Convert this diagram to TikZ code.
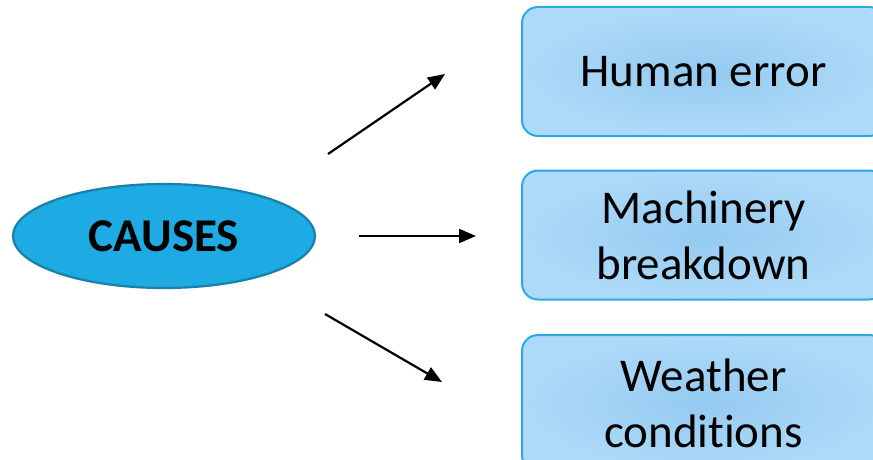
\documentclass[tikz,border=0pt]{standalone}
\usepackage{fontspec}
\setmainfont[RawFeature={-liga;-calt}]{Carlito}
\usetikzlibrary{arrows.meta,shapes.geometric}
\definecolor{ellfill}{RGB}{30,170,226}
\definecolor{elldraw}{RGB}{25,128,170}
\definecolor{boxin}{RGB}{148,202,240}
\definecolor{boxout}{RGB}{174,218,249}
\definecolor{boxdraw}{RGB}{41,171,226}
\tikzset{
  causebox/.style={ellipse, draw=elldraw, fill=ellfill, line width=2.2pt,
    minimum width=302pt, minimum height=104pt, inner sep=0pt,
    font=\fontsize{47}{56}\selectfont\bfseries},
  itembox/.style={rectangle, rounded corners=16pt, draw=boxdraw, line width=2pt,
    inner color=boxin, outer color=boxout,
    minimum width=363pt, minimum height=129pt, inner sep=0pt, align=center,
    font=\fontsize{47}{56}\selectfont},
  conn/.style={line width=2.2pt, -{Triangle[length=17pt,width=14pt]}}
}
\begin{document}
\begin{tikzpicture}[x=1pt,y=-1pt]
\useasboundingbox (0,0) rectangle (873,460);
\clip (0,0) rectangle (873,460);
\node[causebox] (causes) at (164,236) {CAUSES};
\node[itembox] (human) at (703.5,71.5) {Human error};
\node[itembox] (mach) at (703.5,235) {Machinery\\breakdown};
\node[itembox, minimum height=136pt] (weather) at (703.5,403) {Weather\\condit\kern0pt ions};
\coordinate (a1s) at (328,154);
\coordinate (a1e) at (445,74);
\coordinate (a2s) at (359,236);
\coordinate (a2e) at (476,236);
\coordinate (a3s) at (325,314);
\coordinate (a3e) at (442,382);
\draw[conn] (a1s) -- (a1e);
\draw[conn] (a2s) -- (a2e);
\draw[conn] (a3s) -- (a3e);
\end{tikzpicture}
\end{document}
